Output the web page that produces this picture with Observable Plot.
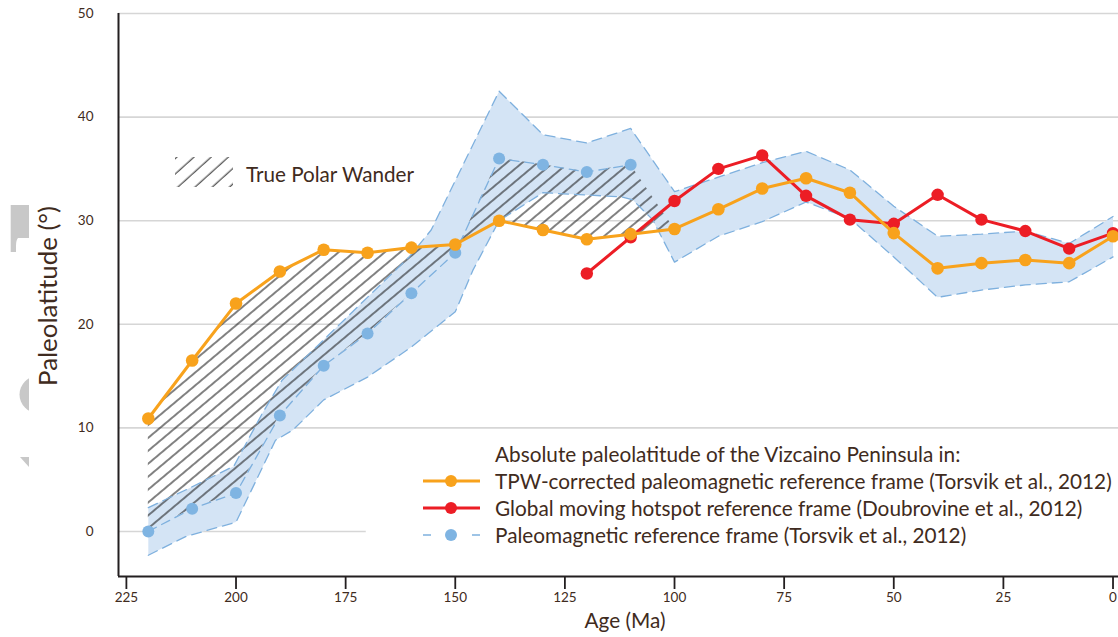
<!DOCTYPE html>
<html><head><meta charset="utf-8">
<script src="https://cdn.jsdelivr.net/npm/d3@7"></script>
<script src="https://cdn.jsdelivr.net/npm/@observablehq/plot@0.6"></script>
<style>
body{margin:0;background:#fff;}
#wrap{position:relative;width:1118px;height:637px;overflow:hidden;background:#fff;}
#wrap svg{position:absolute;left:0;top:0;}
</style></head><body><div id="wrap"></div>
<script>
// ---- data ----
const ages = [220,210,200,190,180,170,160,150,140,130,120,110,100,90,80,70,60,50,40,30,20,10,0];
const tpwLat = [10.9,16.5,22.0,25.1,27.2,26.9,27.4,27.7,30.0,29.1,28.2,28.7,29.2,31.1,33.1,34.1,32.7,28.8,25.4,25.9,26.2,25.9,28.5];
const hotspotAges = [120,110,100,90,80,70,60,50,40,30,20,10,0];
const hotspotLat = [24.9,28.4,31.9,35.0,36.3,32.4,30.1,29.7,32.5,30.1,29.0,27.3,28.8];
const paleoAges = [220,210,200,190,180,170,160,150,140,130,120,110];
const paleoLat = [0.0,2.2,3.7,11.2,16.0,19.1,23.0,26.9,36.0,35.4,34.7,35.4];
const bandUpperAges = [220,211.5,200.5,194,189.5,180,171,160.5,155.5,140,130,120,110,100,90,80,70,60,50,40,30,20,10,0];
const bandUpperLat = [2.3,4.0,6.3,11.4,14.6,18.5,22.2,26.5,29.1,42.5,38.3,37.5,38.9,32.8,34.2,35.6,36.7,34.9,31.4,28.5,28.7,29.0,27.8,30.4];
const bandLowerAges = [220,211.5,200,191,187,180,170,160,150,146,140,130,112,109.5,105,100,90,80,70,60,50,40,30,20,10,0];
const bandLowerLat = [-2.3,-0.5,0.9,8.8,9.8,12.7,14.9,17.8,21.2,25.2,30.0,32.7,32.3,32.0,30.1,26.0,28.5,29.9,31.8,30.2,26.5,22.6,23.3,23.8,24.1,26.5];
const xTicks = [225,200,175,150,125,100,75,50,25,0];
const yTicks = [0,10,20,30,40,50];
const gridLines = [10,20,30,40,50];
const zeroGridEnd = 170.3;
const xDomain = [226.8,-1.25];
const yDomain = [-4.35,50];
const legendTitle = "Absolute paleolatitude of the Vizcaino Peninsula in:";
const legendLabels = [
  "TPW-corrected paleomagnetic reference frame (Torsvik et al., 2012)",
  "Global moving hotspot reference frame (Doubrovine et al., 2012)",
  "Paleomagnetic reference frame (Torsvik et al., 2012)"
];
const tpwLabel = "True Polar Wander";

// ---- style ----
const C = {orange:"#f8a21c", red:"#ec1d25", blue:"#7fb4e2", band:"#d4e4f5", edge:"#7eb0de", text:"#3f2b20", axis:"#231f20", grid:"#d6d6d6", hatch:"#111111", HATCHKEY:"#010203"};

const tpwData = ages.map((a,i)=>({age:a, lat:tpwLat[i]}));
const hotData = hotspotAges.map((a,i)=>({age:a, lat:hotspotLat[i]}));
const paleoData = paleoAges.map((a,i)=>({age:a, lat:paleoLat[i]}));
const upper = bandUpperAges.map((a,i)=>({age:a, lat:bandUpperLat[i]}));
const lower = bandLowerAges.map((a,i)=>({age:a, lat:bandLowerLat[i]}));
const ring = upper.concat(lower.slice().reverse());
const hatchData = tpwData.filter(d=>d.age>=100).map(d=>{
  const j = paleoAges.indexOf(d.age);
  return {age:d.age, y1:d.lat, y2: j>=0 ? paleoLat[j] : d.lat};
});

const plot = Plot.plot({
  width:1118, height:637,
  marginLeft:118, marginRight:0, marginTop:13, marginBottom:61,
  style:{fontFamily:"Lato, 'Open Sans', sans-serif", color:C.text, background:"transparent", overflow:"visible"},
  x:{domain:xDomain, label:null},
  y:{domain:yDomain, label:null},
  marks:[
    Plot.ruleY(gridLines,{stroke:C.grid, strokeWidth:1.6}),
    Plot.ruleY([0],{x1:xDomain[0], x2:zeroGridEnd, stroke:C.grid, strokeWidth:1.6}),
    Plot.line(ring,{x:"age", y:"lat", fill:C.band, stroke:"none", curve:"linear-closed"}),
    Plot.areaY(hatchData,{x:"age", y1:"y1", y2:"y2", fill:C.HATCHKEY}),
    Plot.line(upper,{x:"age", y:"lat", stroke:C.edge, strokeWidth:1.3, strokeDasharray:"10,6"}),
    Plot.line(lower,{x:"age", y:"lat", stroke:C.edge, strokeWidth:1.3, strokeDasharray:"10,6"}),
    Plot.line(paleoData,{x:"age", y:"lat", stroke:C.edge, strokeWidth:1.3, strokeDasharray:"9,6"}),
    Plot.dot(paleoData,{x:"age", y:"lat", r:6, fill:C.blue}),
    Plot.line(hotData,{x:"age", y:"lat", stroke:C.red, strokeWidth:3}),
    Plot.dot(hotData,{x:"age", y:"lat", r:6.2, fill:C.red}),
    Plot.line(tpwData,{x:"age", y:"lat", stroke:C.orange, strokeWidth:3}),
    Plot.dot(tpwData,{x:"age", y:"lat", r:6.3, fill:C.orange}),
    Plot.ruleX([xDomain[0]],{stroke:C.axis, strokeWidth:2}),
    Plot.ruleY([yDomain[0]],{stroke:C.axis, strokeWidth:2}),
    Plot.axisY(yTicks,{tickSize:0, tickPadding:25, fontSize:13.5, label:null, fill:C.text}),
    Plot.axisX(xTicks,{tickSize:13, tickPadding:3, fontSize:13.5, label:null, stroke:C.axis, strokeWidth:1.8, fill:C.text})
  ]
});
const wrap = document.getElementById("wrap");
wrap.appendChild(plot);

// hatch pattern for the TPW region
const psvg = d3.select(plot);
const defs = psvg.insert("defs", ":first-child");
const pat = defs.append("pattern").attr("id","tpwHatch").attr("patternUnits","userSpaceOnUse")
  .attr("width",20).attr("height",9.9).attr("patternTransform","rotate(-40)");
pat.append("line").attr("x1",-1).attr("x2",21).attr("y1",4.95).attr("y2",4.95)
  .attr("stroke",C.hatch).attr("stroke-width",1.05);
psvg.selectAll(`[fill="${C.HATCHKEY}"]`).attr("fill","url(#tpwHatch)");

// ---- overlay: labels, legends, cropped marks at the left edge ----
const ov = d3.select(wrap).append("svg").attr("width",1118).attr("height",637)
  .style("font-family","Lato, 'Open Sans', sans-serif").style("pointer-events","none");
const od = ov.append("defs");
const pat2 = od.append("pattern").attr("id","keyHatch").attr("patternUnits","userSpaceOnUse")
  .attr("width",20).attr("height",11.5).attr("patternTransform","rotate(-42)");
pat2.append("line").attr("x1",-1).attr("x2",21).attr("y1",5).attr("y2",5).attr("stroke","#222").attr("stroke-width",1);

// left-edge grey remnants
const g0 = ov.append("g").attr("fill","#c8c8c8");
g0.append("path").attr("d","M10.7,205 H29 V238 H18 Q16,240 16,246 V252 H10.7 Z");
od.append("clipPath").attr("id","cl").append("rect").attr("x",0).attr("y",0).attr("width",29).attr("height",637);
g0.append("circle").attr("cx",38).attr("cy",394.5).attr("r",18.5).attr("clip-path","url(#cl)");
g0.append("path").attr("d","M20,457 H29 V467 Z");

function fit(sel, target){
  const w = sel.node().getComputedTextLength();
  const fs = parseFloat(sel.attr("font-size"));
  const nfs = fs*target/w;
  sel.attr("font-size", nfs);
  return nfs;
}

// axis titles
const ax = ov.append("text").attr("x",625).attr("y",620).attr("text-anchor","middle")
  .attr("dominant-baseline","central").attr("font-size",19).attr("fill",C.text).text("Age (Ma)");
fit(ax,81);
const ay = ov.append("text").attr("transform","translate(47,296) rotate(-90)").attr("text-anchor","middle")
  .attr("dominant-baseline","central").attr("font-size",19).attr("fill",C.text).text("Paleolatitude (°)");
fit(ay,180);

// TPW key
ov.append("rect").attr("x",175).attr("y",157).attr("width",58).attr("height",30).attr("fill","url(#keyHatch)");
const tk = ov.append("text").attr("x",246).attr("y",174).attr("dominant-baseline","central")
  .attr("font-size",19).attr("fill",C.text).text(tpwLabel);
fit(tk,168);

// series legend
const lt = ov.append("text").attr("x",495).attr("y",454).attr("dominant-baseline","central")
  .attr("font-size",19).attr("fill",C.text).text(legendTitle);
const rows = legendLabels.map((s,i)=>ov.append("text").attr("x",495).attr("y",481+27*i)
  .attr("dominant-baseline","central").attr("font-size",19).attr("fill",C.text).text(s));
const fs = fit(rows[0],617);
rows.forEach(r=>r.attr("font-size",fs));
lt.attr("font-size",fs);

const sw = ov.append("g");
[[C.orange,481],[C.red,508]].forEach(([c,y])=>{
  sw.append("line").attr("x1",423).attr("x2",480).attr("y1",y).attr("y2",y).attr("stroke",c).attr("stroke-width",3);
  sw.append("circle").attr("cx",451).attr("cy",y).attr("r",6).attr("fill",c);
});
sw.append("line").attr("x1",423).attr("x2",431).attr("y1",535).attr("y2",535).attr("stroke",C.edge).attr("stroke-width",1.5);
sw.append("line").attr("x1",472).attr("x2",480).attr("y1",535).attr("y2",535).attr("stroke",C.edge).attr("stroke-width",1.5);
sw.append("circle").attr("cx",451).attr("cy",535).attr("r",6).attr("fill",C.blue);
</script></body></html>
